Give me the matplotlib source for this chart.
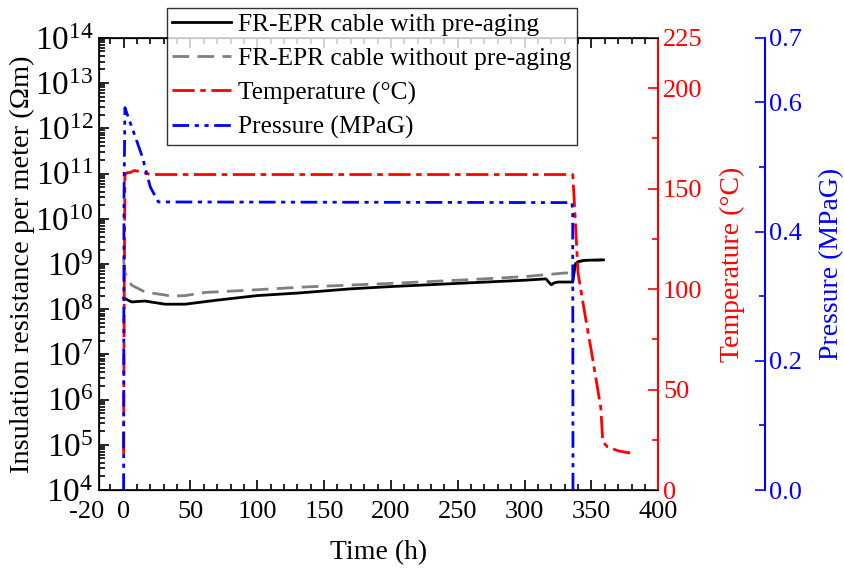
import numpy as np
import matplotlib
matplotlib.use("Agg")
import matplotlib.pyplot as plt
from matplotlib.ticker import LogLocator, FuncFormatter, MultipleLocator, NullFormatter

plt.rcParams["font.family"] = "Liberation Serif"
plt.rcParams["mathtext.fontset"] = "custom"
plt.rcParams["mathtext.rm"] = "Liberation Serif"
plt.rcParams["mathtext.it"] = "Liberation Serif:italic"
plt.rcParams["axes.unicode_minus"] = False
plt.rcParams["font.size"] = 19

# Insulation resistance, log10(Ohm m)
t_aged = [0, 2, 6, 16, 31, 46, 70, 100, 132, 170, 200, 257, 300, 316, 318, 320,
          322, 325, 336, 337, 338, 340, 345, 359]
ir_aged = [8.25, 8.22, 8.16, 8.18, 8.11, 8.11, 8.2, 8.3, 8.36, 8.45, 8.5, 8.58,
           8.64, 8.67, 8.6, 8.54, 8.58, 8.6, 8.6, 8.8, 9.0, 9.05, 9.08, 9.09]

t_new = [0, 1, 6, 16, 36, 46, 61, 100, 135, 200, 257, 300, 330, 336, 338, 341,
         345, 358]
ir_new = [9.1, 8.8, 8.53, 8.38, 8.29, 8.30, 8.37, 8.43, 8.49, 8.57, 8.65, 8.72,
          8.8, 8.8, 8.95, 9.06, 9.08, 9.09]

# Temperature (C)
t_temp = [0, 0.5, 1, 3, 5, 8, 12, 20, 336, 337, 340, 345, 350, 357, 358.5, 362,
          370, 379]
temp = [18, 100, 157, 158, 158, 159, 158.5, 157, 157, 146, 108, 88, 69, 41, 24,
        21.5, 19.5, 18.4]

# Pressure (MPaG)
t_pres = [0, 0.3, 1, 3, 7, 14, 20, 26, 335.5, 336, 336.2]
pres = [0.0, 0.45, 0.592, 0.58, 0.557, 0.516, 0.469, 0.446, 0.445, 0.43, 0.0]

x_ticks = [0, 50, 100, 150, 200, 250, 300, 350, 400]

fig = plt.figure(figsize=(8.45, 5.74), dpi=100)
ax = fig.add_axes([0.117, 0.1463, 0.662, 0.7877])

l1, = ax.plot(t_aged, 10 ** np.array(ir_aged), color="black", lw=2,
              label="FR-EPR cable with pre-aging", zorder=4)
l2, = ax.plot(t_new, 10 ** np.array(ir_new), color="gray", lw=2,
              ls=(0, (6, 3)), label="FR-EPR cable without pre-aging", zorder=3)
ax.set_yscale("log")
ax.set_ylim(1e4, 1e14)
ax.set_xlim(-18.5, 400)
ax.set_xticks(x_ticks)
ax.xaxis.set_minor_locator(MultipleLocator(10))
ax.yaxis.set_major_locator(LogLocator(base=10, numticks=20))
ax.yaxis.set_major_formatter(FuncFormatter(
    lambda v, p: r"$\mathregular{10}^{%d}$" % round(np.log10(v))))
ax.yaxis.set_minor_locator(LogLocator(base=10, subs=np.arange(2, 10), numticks=20))
ax.yaxis.set_minor_formatter(NullFormatter())
ax.tick_params(which="both", direction="in", top=True, width=1.2)
ax.tick_params(which="major", length=7)
ax.tick_params(which="minor", length=4)
ax.tick_params(axis="x", pad=8)
ax.tick_params(axis="y", labelsize=24, pad=4)
ax.set_xlabel("Time (h)", fontsize=20, labelpad=12)
ax.set_ylabel("Insulation resistance per meter (\u03a9m)", fontsize=20.5,
              labelpad=0)
for s in ax.spines.values():
    s.set_linewidth(1.2)
# the -20 label sits just left of the axis start
ax.annotate("-20", xy=(-14.5, 0), xycoords=("data", "axes fraction"),
            xytext=(0, -8), textcoords="offset points", ha="right", va="top",
            fontsize=19)

# temperature axis
axt = ax.twinx()
l3, = axt.plot(t_temp, temp, color="red", lw=2, ls=(0, (8, 2, 2, 2)),
               label="Temperature (\u00b0C)")
axt.set_ylim(0, 225)
axt.set_yticks([0, 50, 100, 150, 200, 225])
axt.yaxis.set_minor_locator(MultipleLocator(25))
axt.spines["right"].set_color("red")
axt.spines["right"].set_linewidth(1.5)
axt.tick_params(which="both", direction="in", colors="red", width=1.2)
axt.tick_params(which="major", length=7)
axt.tick_params(which="minor", length=4)
axt.set_ylabel("Temperature (\u00b0C)", color="red", fontsize=20, labelpad=12)

# pressure axis
axp = ax.twinx()
axp.spines["right"].set_position(("axes", 1.19))
l4, = axp.plot(t_pres, pres, color="blue", lw=2, ls=(0, (6, 2, 1.5, 2, 1.5, 2)),
               label="Pressure (MPaG)")
axp.set_ylim(0, 0.7)
axp.set_yticks([0.0, 0.2, 0.4, 0.6, 0.7])
axp.set_yticklabels(["0.0", "0.2", "0.4", "0.6", "0.7"])
axp.yaxis.set_minor_locator(MultipleLocator(0.1))
axp.spines["right"].set_color("blue")
axp.spines["right"].set_linewidth(1.5)
axp.tick_params(which="both", direction="in", colors="blue", width=1.2)
axp.tick_params(which="major", length=7)
axp.tick_params(which="minor", length=4)
axp.set_ylabel("Pressure (MPaG)", color="blue", fontsize=20, labelpad=12)

leg = fig.legend(handles=[l1, l2, l3, l4], loc="upper left",
                 bbox_to_anchor=(0.1976, 0.986), frameon=True, fancybox=False,
                 fontsize=18.3, handlelength=2.3, borderpad=0.2,
                 labelspacing=0.45, handletextpad=0.3, borderaxespad=0)
leg.get_frame().set_edgecolor("black")
leg.get_frame().set_linewidth(1.0)

fig.savefig("out.png", dpi=100)
